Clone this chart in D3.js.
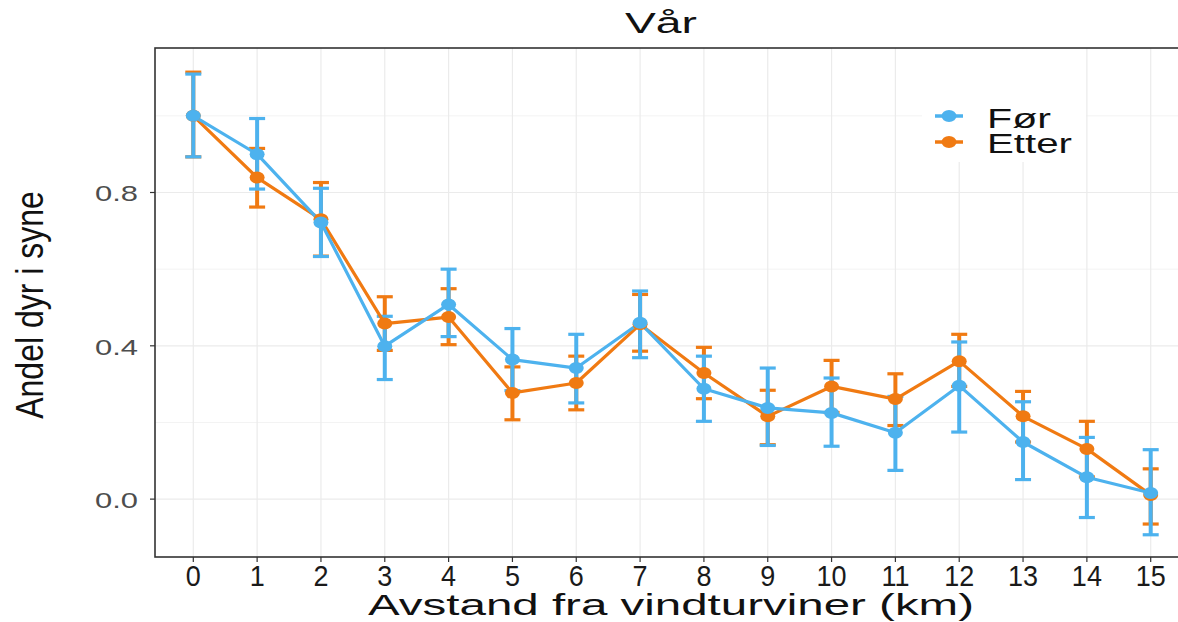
<!DOCTYPE html>
<html>
<head>
<meta charset="utf-8">
<script src="https://cdn.jsdelivr.net/npm/d3@7"></script>
<style>
  html, body { margin: 0; padding: 0; background: #fff; }
  svg { display: block; font-family: "Liberation Sans", Arial, sans-serif; }
</style>
</head>
<body>
<svg id="chart" width="1178" height="622"></svg>
<script>
// ---- data ----
const distances = [0, 1, 2, 3, 4, 5, 6, 7, 8, 9, 10, 11, 12, 13, 14, 15];
const seriesNames = ["Før", "Etter"];
const forMean = [1.000, 0.900, 0.722, 0.399, 0.508, 0.364, 0.342, 0.460, 0.288, 0.238, 0.225, 0.173, 0.296, 0.149, 0.057, 0.016];
const forLow  = [0.893, 0.809, 0.633, 0.312, 0.424, 0.283, 0.251, 0.369, 0.203, 0.140, 0.138, 0.075, 0.175, 0.051, -0.048, -0.093];
const forHigh = [1.109, 0.993, 0.811, 0.477, 0.600, 0.445, 0.430, 0.543, 0.373, 0.342, 0.316, 0.268, 0.410, 0.254, 0.161, 0.129];
const etterMean = [1.000, 0.839, 0.730, 0.458, 0.475, 0.277, 0.303, 0.456, 0.329, 0.216, 0.294, 0.261, 0.360, 0.216, 0.131, 0.011];
const etterLow  = [0.893, 0.762, 0.634, 0.388, 0.403, 0.207, 0.233, 0.386, 0.262, 0.142, 0.226, 0.192, 0.294, 0.149, 0.058, -0.065];
const etterHigh = [1.114, 0.915, 0.826, 0.528, 0.549, 0.345, 0.373, 0.534, 0.396, 0.284, 0.362, 0.327, 0.430, 0.281, 0.203, 0.079];
const yMajorTicks = [0.0, 0.4, 0.8];
const yTickLabels = ["0.0", "0.4", "0.8"];
const yMinorTicks = [0.2, 0.6, 1.0];
const titleText = "Vår";
const xLabelText = "Avstand fra vindturviner (km)";
const yLabelText = "Andel dyr i syne";

const colors = { "Før": "#4DB2EE", "Etter": "#F07A12" };

const series = [
  { name: "Etter", mean: etterMean, low: etterLow, high: etterHigh },
  { name: "Før", mean: forMean, low: forLow, high: forHigh }
];

// ---- layout ----
const panel = { left: 155, top: 48, right: 1189, bottom: 557 };
const svg = d3.select("#chart");

const x = d3.scaleLinear().domain([-0.6, 15.6]).range([panel.left, panel.right]);
const y = d3.scaleLinear().domain([-0.151, 1.177]).range([panel.bottom, panel.top]);

const g = svg.append("g");

// grid
g.selectAll(".ygridminor").data(yMinorTicks).join("line")
  .attr("x1", panel.left).attr("x2", panel.right)
  .attr("y1", d => y(d)).attr("y2", d => y(d))
  .attr("stroke", "#f3f3f3").attr("stroke-width", 1);
g.selectAll(".ygrid").data(yMajorTicks).join("line")
  .attr("x1", panel.left).attr("x2", panel.right)
  .attr("y1", d => y(d)).attr("y2", d => y(d))
  .attr("stroke", "#ebebeb").attr("stroke-width", 1.2);
g.selectAll(".xgrid").data(distances).join("line")
  .attr("x1", d => x(d)).attr("x2", d => x(d))
  .attr("y1", panel.top).attr("y2", panel.bottom)
  .attr("stroke", "#ebebeb").attr("stroke-width", 1.2);

// legend background (covers gridlines)
g.append("rect").attr("x", 922).attr("y", panel.top + 1)
  .attr("width", 164).attr("height", 113).attr("fill", "#fff");

// error bars
const capHalf = 8;
series.forEach(s => {
  const eg = g.append("g").attr("stroke", colors[s.name]).attr("stroke-width", 3.2).attr("fill", "none");
  distances.forEach((d, i) => {
    eg.append("line").attr("x1", x(d)).attr("x2", x(d)).attr("y1", y(s.low[i])).attr("y2", y(s.high[i])).attr("stroke-width", 4);
    eg.append("line").attr("x1", x(d) - capHalf).attr("x2", x(d) + capHalf).attr("y1", y(s.low[i])).attr("y2", y(s.low[i]));
    eg.append("line").attr("x1", x(d) - capHalf).attr("x2", x(d) + capHalf).attr("y1", y(s.high[i])).attr("y2", y(s.high[i]));
  });
});

// lines
const lineGen = d3.line().x((d, i) => x(distances[i])).y(d => y(d));
series.forEach(s => {
  g.append("path").datum(s.mean).attr("d", lineGen)
    .attr("fill", "none").attr("stroke", colors[s.name]).attr("stroke-width", 3.2)
    .attr("stroke-linejoin", "round");
});

// points
series.forEach(s => {
  g.selectAll(null).data(s.mean).join("ellipse")
    .attr("cx", (d, i) => x(distances[i])).attr("cy", d => y(d))
    .attr("rx", 7.5).attr("ry", 6).attr("fill", colors[s.name]);
});

// panel border
g.append("rect").attr("x", panel.left).attr("y", panel.top)
  .attr("width", panel.right - panel.left).attr("height", panel.bottom - panel.top)
  .attr("fill", "none").attr("stroke", "#333").attr("stroke-width", 1.6);

// y ticks and labels
g.selectAll(".ytick").data(yMajorTicks).join("line")
  .attr("x1", panel.left - 5).attr("x2", panel.left)
  .attr("y1", d => y(d)).attr("y2", d => y(d))
  .attr("stroke", "#333").attr("stroke-width", 1.2);
g.selectAll(".ylab").data(yMajorTicks).join("text")
  .attr("x", 95).attr("y", d => y(d) + 9)
  .attr("font-size", 22).attr("fill", "#4d4d4d")
  .attr("textLength", 43).attr("lengthAdjust", "spacingAndGlyphs")
  .text((d, i) => yTickLabels[i]);

// x ticks and labels
g.selectAll(".xtick").data(distances).join("line")
  .attr("x1", d => x(d)).attr("x2", d => x(d))
  .attr("y1", panel.bottom).attr("y2", panel.bottom + 5)
  .attr("stroke", "#333").attr("stroke-width", 1.2);
g.selectAll(".xlab").data(distances).join("text")
  .attr("transform", d => `translate(${x(d)},586) scale(0.9,1)`)
  .attr("text-anchor", "middle")
  .attr("font-size", 30).attr("fill", "#1a1a1a")
  .text(d => String(d));

// title
svg.append("text").attr("x", 625).attr("y", 33)
  .attr("font-size", 29).attr("fill", "#111")
  .attr("textLength", 72).attr("lengthAdjust", "spacingAndGlyphs")
  .text(titleText);

// x axis label
svg.append("text").attr("x", 368).attr("y", 615)
  .attr("font-size", 30).attr("fill", "#111")
  .attr("textLength", 606).attr("lengthAdjust", "spacingAndGlyphs")
  .text(xLabelText);

// y axis label
svg.append("text")
  .attr("transform", "translate(43,305) scale(1.21,1) rotate(-90)")
  .attr("text-anchor", "middle")
  .attr("font-size", 32).attr("fill", "#111")
  .text(yLabelText);

// legend
const legendRows = [
  { name: "Før", y: 116, base: 128, size: 28, len: 64 },
  { name: "Etter", y: 142, base: 153, size: 27, len: 85 }
];
legendRows.forEach(r => {
  g.append("line").attr("x1", 935).attr("x2", 963).attr("y1", r.y).attr("y2", r.y)
    .attr("stroke", colors[r.name]).attr("stroke-width", 3.5);
  g.append("ellipse").attr("cx", 949).attr("cy", r.y).attr("rx", 7.5).attr("ry", 6)
    .attr("fill", colors[r.name]);
  g.append("text").attr("x", 987).attr("y", r.base)
    .attr("font-size", r.size).attr("fill", "#111")
    .attr("textLength", r.len).attr("lengthAdjust", "spacingAndGlyphs")
    .text(r.name);
});
</script>
</body>
</html>
